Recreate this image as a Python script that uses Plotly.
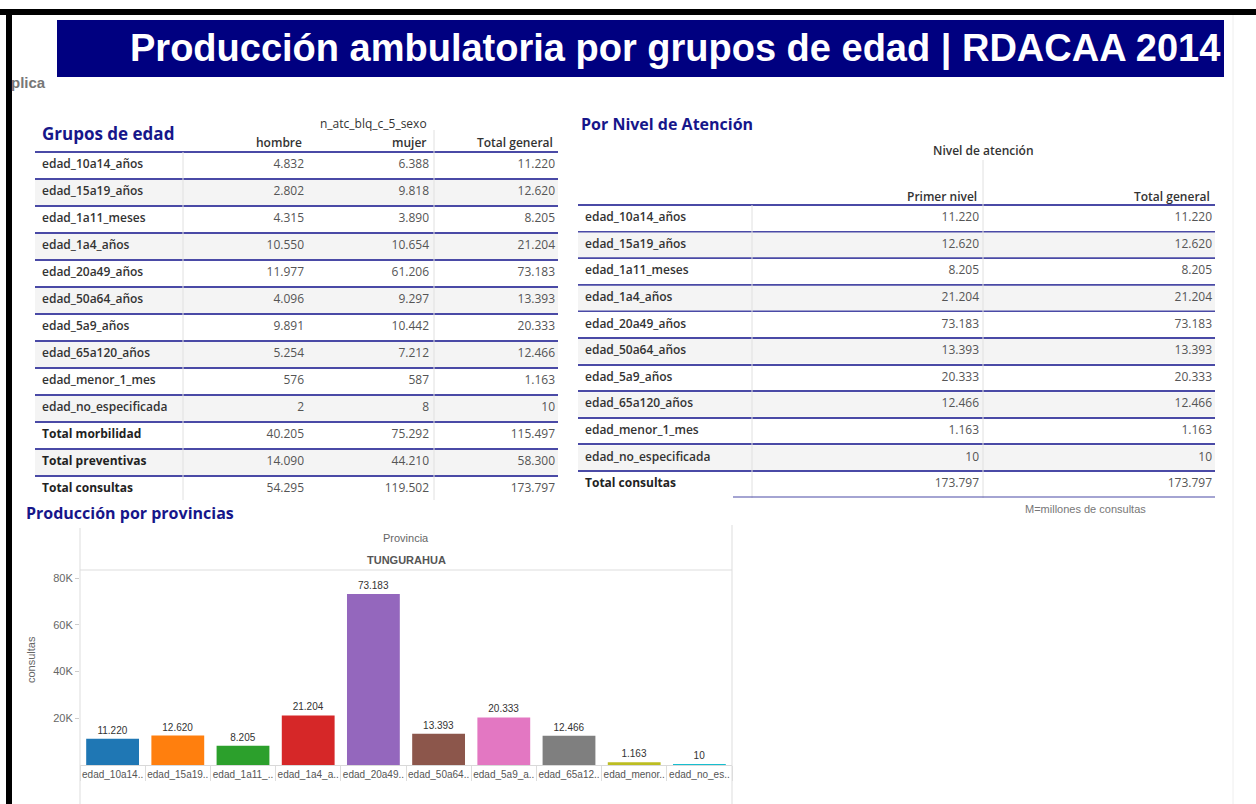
import plotly.graph_objects as go

W, H = 1256, 804

# ---------------- data ----------------
grupos = ["edad_10a14_años", "edad_15a19_años", "edad_1a11_meses", "edad_1a4_años",
          "edad_20a49_años", "edad_50a64_años", "edad_5a9_años", "edad_65a120_años",
          "edad_menor_1_mes", "edad_no_especificada"]
hombre = [4832, 2802, 4315, 10550, 11977, 4096, 9891, 5254, 576, 2]
mujer = [6388, 9818, 3890, 10654, 61206, 9297, 10442, 7212, 587, 8]
total_general = [11220, 12620, 8205, 21204, 73183, 13393, 20333, 12466, 1163, 10]

totales = ["Total morbilidad", "Total preventivas", "Total consultas"]
tot_hombre = [40205, 14090, 54295]
tot_mujer = [75292, 44210, 119502]
tot_general = [115497, 58300, 173797]

primer_nivel = [11220, 12620, 8205, 21204, 73183, 13393, 20333, 12466, 1163, 10]
nivel_total = [11220, 12620, 8205, 21204, 73183, 13393, 20333, 12466, 1163, 10]
total_consultas_label = "Total consultas"
total_consultas_primer = 173797
total_consultas_general = 173797

etiquetas_cortas = ["edad_10a14..", "edad_15a19..", "edad_1a11_..", "edad_1a4_a..",
                    "edad_20a49..", "edad_50a64..", "edad_5a9_a..", "edad_65a12..",
                    "edad_menor..", "edad_no_es.."]
colores = ["#1f77b4", "#ff7f0e", "#2ca02c", "#d62728", "#9467bd",
           "#8c564b", "#e377c2", "#7f7f7f", "#bcbd22", "#17becf"]
y_ticks = [20000, 40000, 60000, 80000]
y_ticktext = ["20K", "40K", "60K", "80K"]

# ---------------- helpers ----------------
def fx(p):
    return p / W

def fy(p):
    return 1 - p / H

def fmt(v):
    return f"{v:,}".replace(",", ".")

NAVY = "#000080"
TITLE_BLUE = "#16168a"
ROWLINE = "#4a4aa6"
FILL = "#f4f4f4"
VLINE = "#e0e0e0"
TFONT = "Open Sans"
CFONT = "Liberation Sans"

fig = go.Figure()

# ================= Table 1 : Grupos de edad =================
t1_labels = grupos + totales
t1_h = [fmt(v) for v in hombre + tot_hombre]
t1_m = [fmt(v) for v in mujer + tot_mujer]
t1_t = [fmt(v) for v in total_general + tot_general]
rows1 = list(range(len(t1_labels)))
T1_X0, T1_X1 = 35, 558
RH1 = 27
T1_TOP = 152

fig.add_trace(go.Bar(
    orientation="h", y=[r for r in rows1 if r % 2 == 1],
    x=[T1_X1 - T1_X0] * len([r for r in rows1 if r % 2 == 1]), base=T1_X0,
    width=1 - 2 / RH1, marker=dict(color=FILL, line=dict(width=0)),
    xaxis="x2", yaxis="y2", hoverinfo="skip", showlegend=False))
fig.add_trace(go.Scatter(
    x=[42] * len(grupos), y=rows1[:len(grupos)], text=grupos, mode="text",
    textposition="middle right",
    textfont=dict(family=TFONT, size=12, color="#333333", weight=600),
    xaxis="x2", yaxis="y2", hoverinfo="skip", showlegend=False, cliponaxis=False))
fig.add_trace(go.Scatter(
    x=[42] * len(totales), y=rows1[len(grupos):], text=totales, mode="text",
    textposition="middle right",
    textfont=dict(family=TFONT, size=12, color="#222222", weight=700),
    xaxis="x2", yaxis="y2", hoverinfo="skip", showlegend=False, cliponaxis=False))
for xr, vals in [(304, t1_h), (429, t1_m), (555, t1_t)]:
    fig.add_trace(go.Scatter(
        x=[xr] * len(vals), y=rows1, text=vals, mode="text",
        textposition="middle left",
        textfont=dict(family=TFONT, size=12, color="#555555"),
        xaxis="x2", yaxis="y2", hoverinfo="skip", showlegend=False, cliponaxis=False))

# ================= Table 2 : Por Nivel de Atención =================
t2_labels = grupos + [total_consultas_label]
t2_p = [fmt(v) for v in primer_nivel + [total_consultas_primer]]
t2_t = [fmt(v) for v in nivel_total + [total_consultas_general]]
rows2 = list(range(len(t2_labels)))
T2_X0, T2_X1 = 578, 1215
RH2 = 26.6
T2_TOP = 205

fig.add_trace(go.Bar(
    orientation="h", y=[r for r in rows2 if r % 2 == 1],
    x=[T2_X1 - T2_X0] * len([r for r in rows2 if r % 2 == 1]), base=T2_X0,
    width=1 - 2 / RH2, marker=dict(color=FILL, line=dict(width=0)),
    xaxis="x3", yaxis="y3", hoverinfo="skip", showlegend=False))
fig.add_trace(go.Scatter(
    x=[585] * len(grupos), y=rows2[:len(grupos)], text=grupos, mode="text",
    textposition="middle right",
    textfont=dict(family=TFONT, size=12, color="#333333", weight=600),
    xaxis="x3", yaxis="y3", hoverinfo="skip", showlegend=False, cliponaxis=False))
fig.add_trace(go.Scatter(
    x=[585], y=rows2[len(grupos):], text=[total_consultas_label], mode="text",
    textposition="middle right",
    textfont=dict(family=TFONT, size=12, color="#222222", weight=700),
    xaxis="x3", yaxis="y3", hoverinfo="skip", showlegend=False, cliponaxis=False))
for xr, vals in [(979, t2_p), (1212, t2_t)]:
    fig.add_trace(go.Scatter(
        x=[xr] * len(vals), y=rows2, text=vals, mode="text",
        textposition="middle left",
        textfont=dict(family=TFONT, size=12, color="#555555"),
        xaxis="x3", yaxis="y3", hoverinfo="skip", showlegend=False, cliponaxis=False))

# ================= Bar chart =================
fig.add_trace(go.Bar(
    x=grupos, y=total_general, marker=dict(color=colores, line=dict(width=0)),
    text=[fmt(v) for v in total_general], textposition="outside",
    textfont=dict(family=CFONT, size=10, color="#333333"),
    cliponaxis=False, hoverinfo="skip", showlegend=False))
# category separators on a linear overlay axis
fig.add_trace(go.Scatter(
    x=[-0.5, 9.5], y=[0, 0], mode="lines", line=dict(width=0),
    xaxis="x4", yaxis="y", hoverinfo="skip", showlegend=False))

CH_X0, CH_X1 = 80, 732
CH_BOTTOM, CH_TOP = 765, 570
y_top_val = 80000 * (CH_BOTTOM - CH_TOP) / (CH_BOTTOM - 578)

hidden = dict(showticklabels=False, ticks="", showline=False, zeroline=False)

fig.update_layout(
    width=W, height=H, autosize=False,
    margin=dict(l=0, r=0, t=0, b=0),
    paper_bgcolor="white", plot_bgcolor="rgba(0,0,0,0)",
    bargap=0.19, separators=",.",
    font=dict(family=TFONT),
    # table 1 axes
    xaxis2=dict(domain=[fx(T1_X0), fx(T1_X1)], range=[T1_X0, T1_X1], anchor="y2",
                showgrid=False, **hidden),
    yaxis2=dict(domain=[fy(T1_TOP + RH1 * 13), fy(T1_TOP - 0.1 * RH1)],
                range=[12.5, -0.6], anchor="x2",
                tickmode="array", tickvals=[r + 0.5 for r in range(-1, 12)],
                showgrid=True, gridcolor=ROWLINE, gridwidth=2, **hidden),
    # table 2 axes
    xaxis3=dict(domain=[fx(T2_X0), fx(T2_X1)], range=[T2_X0, T2_X1], anchor="y3",
                showgrid=False, **hidden),
    yaxis3=dict(domain=[fy(T2_TOP + RH2 * 11), fy(T2_TOP - 0.1 * RH2)],
                range=[10.5, -0.6], anchor="x3",
                tickmode="array", tickvals=[r + 0.5 for r in range(-1, 10)],
                showgrid=True, gridcolor=ROWLINE, gridwidth=2, **hidden),
    # chart axes
    xaxis=dict(domain=[fx(CH_X0), fx(CH_X1)], anchor="y", type="category",
               tickmode="array", tickvals=grupos, ticktext=etiquetas_cortas,
               tickfont=dict(family=CFONT, size=10, color="#555555"),
               ticks="", showline=True, linecolor="#d9d9d9", linewidth=1,
               showgrid=False, zeroline=False),
    xaxis4=dict(domain=[fx(CH_X0), fx(CH_X1)], anchor="y", overlaying="x",
                range=[-0.5, 9.5], tickmode="array",
                tickvals=[i - 0.5 for i in range(11)], ticks="outside", ticklen=15,
                tickcolor="#dddddd", showticklabels=False, showgrid=False,
                zeroline=False, showline=False),
    yaxis=dict(domain=[fy(CH_BOTTOM), fy(CH_TOP)], range=[0, y_top_val], anchor="x",
               tickmode="array", tickvals=y_ticks, ticktext=y_ticktext,
               ticks="outside", ticklen=4, tickcolor="#cccccc",
               tickfont=dict(family=CFONT, size=11, color="#666666"),
               showgrid=False, zeroline=False, showline=False),
)

# ---------------- shapes (frame, banner, rules) ----------------
shapes = [
    # black frame
    dict(type="rect", xref="paper", yref="paper", x0=0, x1=1, y0=fy(15), y1=fy(9),
         fillcolor="black", line=dict(width=0)),
    dict(type="rect", xref="paper", yref="paper", x0=fx(6), x1=fx(12), y0=0, y1=fy(9),
         fillcolor="black", line=dict(width=0)),
    dict(type="line", xref="paper", yref="paper", x0=fx(1233), x1=fx(1233), y0=0, y1=fy(15),
         line=dict(color="#eeeeee", width=1)),
    # title banner
    dict(type="rect", xref="paper", yref="paper", x0=fx(57), x1=fx(1224), y0=fy(77), y1=fy(20),
         fillcolor=NAVY, line=dict(width=0), layer="below"),
    # table 1 vertical rules
    dict(type="line", xref="x2", yref="paper", x0=183, x1=183, y0=fy(500), y1=fy(152),
         line=dict(color=VLINE, width=1)),
    dict(type="line", xref="x2", yref="paper", x0=434, x1=434, y0=fy(500), y1=fy(130),
         line=dict(color=VLINE, width=1)),
    # table 2 vertical rules
    dict(type="line", xref="x3", yref="paper", x0=752, x1=752, y0=fy(498), y1=fy(205),
         line=dict(color=VLINE, width=1)),
    dict(type="line", xref="x3", yref="paper", x0=983, x1=983, y0=fy(498), y1=fy(160),
         line=dict(color=VLINE, width=1)),
    dict(type="line", xref="x3", yref="y3", x0=733, x1=T2_X1, y0=10.5, y1=10.5,
         line=dict(color=ROWLINE, width=2)),
    # chart frame rules
    dict(type="line", xref="paper", yref="paper", x0=fx(80), x1=fx(80), y0=0, y1=fy(528),
         line=dict(color="#dddddd", width=1)),
    dict(type="line", xref="paper", yref="paper", x0=fx(732), x1=fx(732), y0=0, y1=fy(525),
         line=dict(color="#dddddd", width=1)),
    dict(type="line", xref="paper", yref="paper", x0=fx(80), x1=fx(732), y0=fy(570), y1=fy(570),
         line=dict(color="#dddddd", width=1)),
]
fig.update_layout(shapes=shapes)

# ---------------- annotations ----------------
def ann(text, x, y, size, color, family=TFONT, xanchor="left", weight=None, **kw):
    f = dict(family=family, size=size, color=color)
    if weight:
        f["weight"] = weight
    d = dict(text=text, x=x, y=y, xref=kw.pop("xref", "paper"), yref=kw.pop("yref", "paper"),
             xanchor=xanchor, yanchor="middle", showarrow=False, font=f)
    d.update(kw)
    return d

annotations = [
    ann("Producción ambulatoria por grupos de edad | RDACAA 2014", fx(1222), fy(49), 38,
        "white", family="Liberation Sans", xanchor="right", weight=700),
    ann("plica", fx(9), fy(82), 15, "#777777", family="Liberation Sans", weight=700),
    # table 1
    ann("Grupos de edad", fx(40), fy(134), 17, TITLE_BLUE, weight=700),
    ann("n_atc_blq_c_5_sexo", fx(429), fy(124), 12, "#333333", xanchor="right"),
    ann("hombre", fx(304), fy(142), 12, "#333333", xanchor="right", weight=600),
    ann("mujer", fx(429), fy(142), 12, "#333333", xanchor="right", weight=600),
    ann("Total general", fx(555), fy(142), 12, "#333333", xanchor="right", weight=600),
    # table 2
    ann("Por Nivel de Atención", fx(579), fy(124), 16, TITLE_BLUE, weight=700),
    ann("Nivel de atención", fx(983), fy(150), 12, "#333333", xanchor="center", weight=600),
    ann("Primer nivel", fx(979), fy(196), 12, "#333333", xanchor="right", weight=600),
    ann("Total general", fx(1212), fy(196), 12, "#333333", xanchor="right", weight=600),
    ann("M=millones de consultas", fx(1085), fy(509), 11, "#777777",
        family="Liberation Sans", xanchor="center"),
    # chart
    ann("Producción por provincias", fx(24), fy(513), 16, TITLE_BLUE, weight=700),
    ann("Provincia", fx(406), fy(538), 11, "#666666", family=CFONT, xanchor="center"),
    ann("TUNGURAHUA", fx(406), fy(560), 11, "#555555", family=CFONT, xanchor="center",
        weight=700),
    ann("consultas", fx(31), fy(660), 11, "#666666", family=CFONT, xanchor="center",
        textangle=-90),
]
fig.update_layout(annotations=annotations)

fig.write_html("out.html", config={"displayModeBar": False},
               post_script="document.body.style.margin='0';document.body.style.overflow='hidden';")
